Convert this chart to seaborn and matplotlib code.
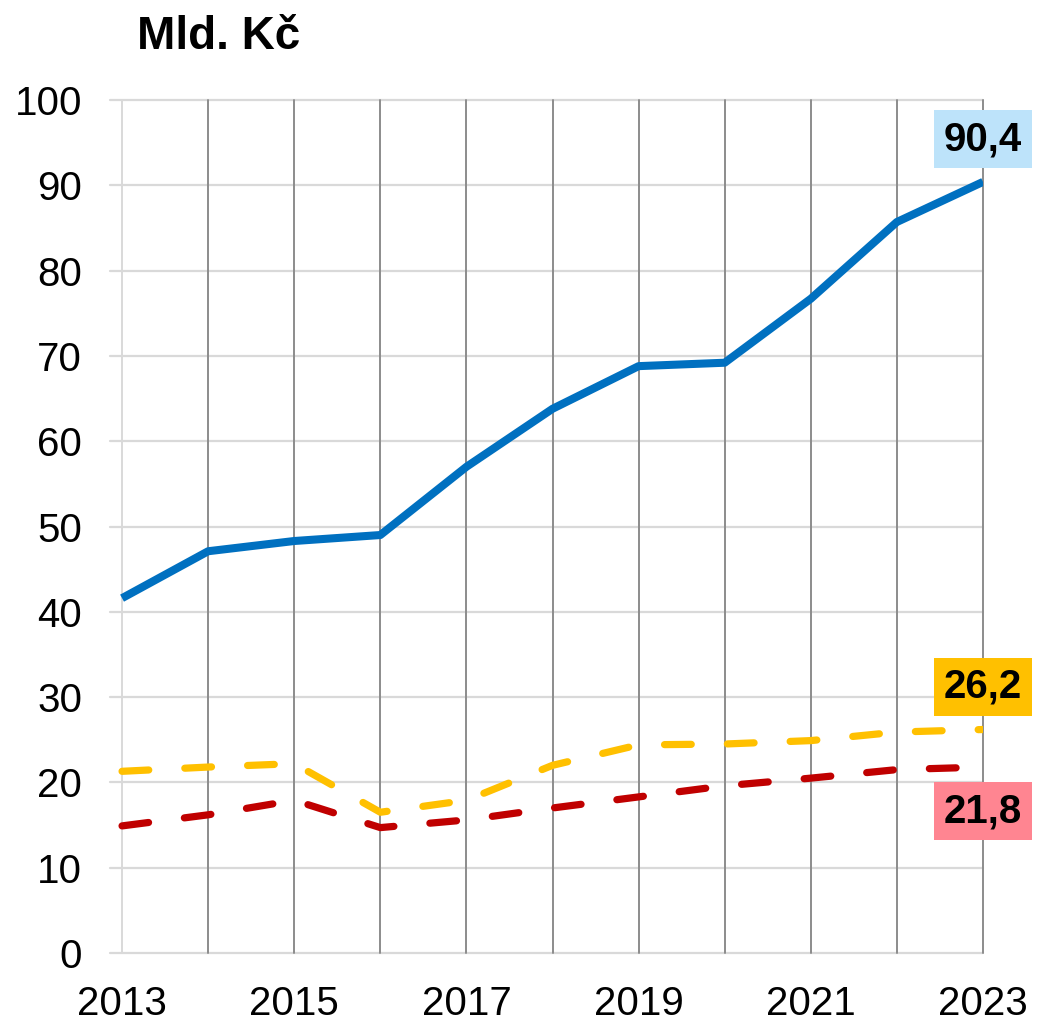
import pandas as pd
import seaborn as sns
import matplotlib.pyplot as plt

years = list(range(2013, 2024))
blue_vals = [41.6, 47.1, 48.3, 49.0, 57.0, 63.8, 68.8, 69.2, 76.7, 85.7, 90.4]
yellow_vals = [21.3, 21.8, 22.2, 16.5, 17.9, 22.0, 24.4, 24.5, 24.9, 25.9, 26.2]
red_vals = [14.9, 16.2, 17.9, 14.7, 15.6, 17.0, 18.3, 19.6, 20.5, 21.5, 21.8]
tick_labels = ["2013", "", "2015", "", "2017", "", "2019", "", "2021", "", "2023"]
y_ticks = list(range(0, 101, 10))

df = pd.DataFrame({"rok": years, "modra": blue_vals, "zluta": yellow_vals, "cervena": red_vals})

sns.set_style("white")
plt.rcParams['font.family'] = ['Liberation Sans', 'DejaVu Sans']
plt.rcParams['text.color'] = 'black'
plt.rcParams['xtick.labelcolor'] = 'black'
plt.rcParams['ytick.labelcolor'] = 'black'

fig = plt.figure(figsize=(10.39, 10.22), dpi=100)
ax = fig.add_axes([110/1039, 1-953/1022, (983-110)/1039, (953-100)/1022])

# mrizka
for y in y_ticks:
    ax.axhline(y, color="#d9d9d9", lw=1.6, zorder=1, clip_on=False)
for yr in years:
    ax.axvline(yr, color="#d9d9d9" if yr == 2013 else "#8c8c8c", lw=1.4, zorder=1.5, clip_on=False)

dash = (0, (3.7, 5.0))
sns.lineplot(data=df, x="rok", y="zluta", ax=ax, color="#ffc000", lw=5.2,
             linestyle=dash, dash_capstyle="round", zorder=3)
sns.lineplot(data=df, x="rok", y="cervena", ax=ax, color="#c00000", lw=5.2,
             linestyle=dash, dash_capstyle="round", zorder=3)
sns.lineplot(data=df, x="rok", y="modra", ax=ax, color="#0070c0", lw=5.8,
             solid_capstyle="butt", zorder=4)

ax.set_xlim(2012.86, 2023)
ax.set_ylim(0, 100)
ax.set_xticks(years)
ax.set_xticklabels(tick_labels)
ax.set_yticks(y_ticks)
ax.tick_params(axis="x", length=9, width=1.6, color="#d9d9d9", pad=14, labelsize=29, labelcolor="black")
ax.tick_params(axis="y", length=0, pad=20, labelsize=29, labelcolor="black")
ax.set_xlabel("")
ax.set_ylabel("")
for s in ax.spines.values():
    s.set_visible(False)

# popisky poslednich hodnot
labels = [(blue_vals[-1], 95.4, "#bde3fa"),
          (yellow_vals[-1], 31.2, "#ffc000"),
          (red_vals[-1], 16.6, "#ff8591")]
for val, ypos, bg in labels:
    ax.text(2023, ypos, f"{val:.1f}".replace(".", ","), ha="center", va="center",
            fontsize=29, fontweight="bold", color="black", zorder=5, clip_on=False,
            bbox=dict(boxstyle="square,pad=0.25", fc=bg, ec="none"))

fig.text(137/1039, 1-37/1022, "Mld. Kč", fontsize=33, fontweight="bold",
         color="black", ha="left", va="center")

fig.savefig("out.png", dpi=100)
